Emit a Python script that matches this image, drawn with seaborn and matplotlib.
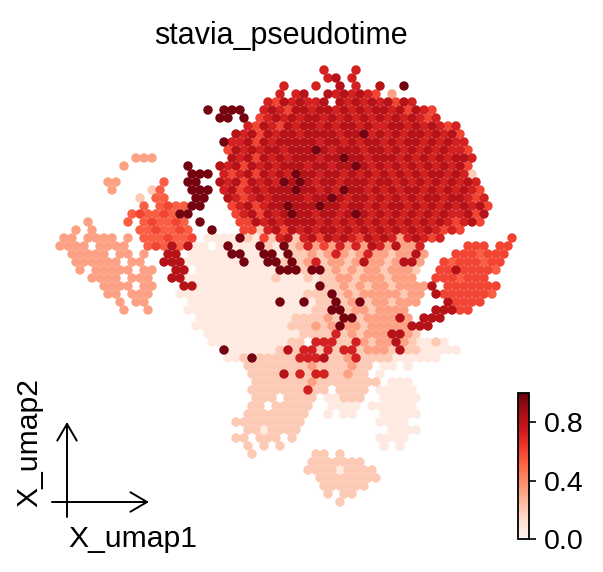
import matplotlib
matplotlib.use("Agg")
import matplotlib.pyplot as plt
import seaborn as sns
import pandas as pd

# pseudotime level for each character in the map below
pseudotime_levels = {"1": 0.07, "2": 0.2, "3": 0.33, "4": 0.45, "5": 0.53,
                     "6": 0.6, "7": 0.72, "8": 0.82, "9": 0.97}

# umap embedding, one character per cell
# (odd rows sit half a cell to the right), blocks of 10 columns split by "|",
# "." = no cell
umap_rows = [
    "..........|..........|..........|...7...7..|..........|........",
    "..........|..........|..........|...78.7...|..........|........",
    "..........|..........|........7.|..7..8.7..|8..9......|........",
    "..........|..........|.......7.7|8..8787876|.3........|........",
    "..........|..........|......7687|8778.87878|78687.....|........",
    "..........|........9.|999..78768|8788787878|8786876...|........",
    "..........|..........|99.9.67878|7887878787|87878767..|........",
    "..........|..........|...7687687|8878788787|7887878767|........",
    "..........|..........|..87868788|7888878897|8787887878|6.......",
    "..........|..........|9778687888|8878878788|7878878787|7.......",
    "..........|..........|.687878878|8898788878|8787878787|76......",
    ".........3|33........|.878687878|8878898878|8878787878|87......",
    "........3.|......9...|8786878788|8788788987|8787878787|86......",
    "..........|......999.|7678687879|8878878787|8787878878|72......",
    "......33..|...5..99..|8786878798|9878878887|8878787878|787.....",
    "......3...|.25...999.|7867878889|8878798878|7878878787|876.....",
    "..........|2.55...99.|.876787888|8788987887|8787878878|8767....",
    "..........|5.565599..|.678678898|8898878878|7887878787|8786....",
    ".........5|6556599...|..67868789|8878878987|8787878787|7868....",
    "...3....5.|565565.9..|..66878788|8878787878|7878787876|786.....",
    "..3.3.....|5565565..9|...6627868|7878878787|8787878767|6.......",
    "33.3333.3.|5556556.11|1192162782|7868787687|87378767..|......6.",
    "3333.3333.|.56585811.|1911192192|3736373738|738337....|.666.66.",
    ".33333.33.|3..88.1111|1991199192|2323732373|323383...6|665666..",
    "..333333.3|3..8881111|1119119929|2372332383|323883..65|666566..",
    "..3.33333.|33..88.111|1111111999|2992323233|23332..668|66665...",
    "....3333.3|33..881111|1111111211|1212233233|32333..666|5666....",
    ".....3333.|33...88111|1111111111|1192232323|3233338.66|66666...",
    "......33.3|33...11111|1111111111|1222923233|333233.866|66665...",
    ".......3.3|3.....1111|1111111911|9122923923|32333...86|666.....",
    "........3.|.3....1111|1111111111|1122992332|3333...888|66......",
    "..........|.......111|1111111112|2223299233|3383.888..|........",
    "..........|.......111|1111111112|2232393323|3333888...|........",
    "..........|........11|1111111111|2222723233|38832.....|........",
    "..........|.........1|1111111112|2.77722732|338321121.|........",
    "..........|..........|9111111282|7727277233|3282211111|........",
    "..........|..........|.112922222|7778223722|22111111..|........",
    "..........|..........|...2222222|232222322.|11.1......|........",
    "..........|..........|....222282|727722322.|1.........|........",
    "..........|..........|....222222|2322222222|.111......|........",
    "..........|..........|....222222|2722.2222.|11111.....|........",
    "..........|..........|....222.22|22.11222..|11111.....|........",
    "..........|..........|....22.222|22..1111.1|11111.....|........",
    "..........|..........|...2222222|2..1.11...|11111.....|........",
    "..........|..........|..22222222|2.........|1111......|........",
    "..........|..........|...2212222|..........|.1111.....|........",
    "..........|..........|..22.222.2|..........|1111......|........",
    "..........|..........|...2.2.2..|..........|1.1.......|........",
    "..........|..........|....2.....|..22.2....|..........|........",
    "..........|..........|..........|.2222222..|..........|........",
    "..........|..........|..........|.222212222|..........|........",
    "..........|..........|..........|..22222222|..........|........",
    "..........|..........|..........|...222222.|..........|........",
    "..........|..........|..........|...2.22...|..........|........",
    "..........|..........|..........|.....2....|..........|........",
]
cbar_ticks = [0.0, 0.4, 0.8]

sns.set_style("white")
plt.rcParams["font.family"] = ["Liberation Sans", "DejaVu Sans"]
plt.rcParams["text.color"] = "black"
plt.rcParams["ytick.color"] = "black"
plt.rcParams["axes.edgecolor"] = "black"

cells = []
for r, row in enumerate(umap_rows):
    for b, block in enumerate(row.split("|")):
        for j, ch in enumerate(block):
            if ch in pseudotime_levels:
                cells.append((10 * b + j + 0.5 * (r % 2), -r, pseudotime_levels[ch]))
df = pd.DataFrame(cells, columns=["X_umap1", "X_umap2", "stavia_pseudotime"])
df = df.sort_values("stavia_pseudotime")  # high values drawn on top

W, H = 603, 572
fig = plt.figure(figsize=(W / 100, H / 100), dpi=100)
ax = fig.add_axes([52 / W, 1 - 510 / H, 472 / W, 448 / H])
sns.scatterplot(data=df, x="X_umap1", y="X_umap2", hue="stavia_pseudotime",
                palette="Reds", hue_norm=(0, 1), s=46, linewidth=0,
                legend=False, ax=ax)
ax.set_xlim(-1, 58)
ax.set_ylim(-55, 1)
ax.axis("off")

fig.text(281 / W, 1 - 44 / H, "stavia_pseudotime", ha="center",
         va="baseline", fontsize=22)

# small umap axes arrows in the corner
arrow = dict(arrowstyle="->,head_length=0.6,head_width=0.35", lw=1.4,
             color="black", mutation_scale=20, shrinkA=0, shrinkB=0)
ax.annotate("", xy=(149, H - 502), xytext=(52, H - 502),
            xycoords="figure pixels", annotation_clip=False, arrowprops=arrow)
ax.annotate("", xy=(67, H - 422), xytext=(67, H - 517),
            xycoords="figure pixels", annotation_clip=False, arrowprops=arrow)
fig.text(68 / W, 1 - 547 / H, "X_umap1", ha="left", va="baseline",
         fontsize=21.7)
fig.text(37 / W, 1 - 507 / H, "X_umap2", rotation=90, rotation_mode="anchor",
         ha="left", va="baseline", fontsize=21.7)

# colorbar
cax = fig.add_axes([518 / W, 1 - 539 / H, 11 / W, 146 / H])
sm = plt.cm.ScalarMappable(norm=plt.Normalize(0, 1), cmap="Reds")
cb = fig.colorbar(sm, cax=cax, ticks=cbar_ticks)
cb.ax.tick_params(labelsize=20.5, length=5, width=1.2, pad=6, color="black")
cb.outline.set_linewidth(1.3)
cb.outline.set_edgecolor("black")

fig.savefig("out.png", dpi=100)
